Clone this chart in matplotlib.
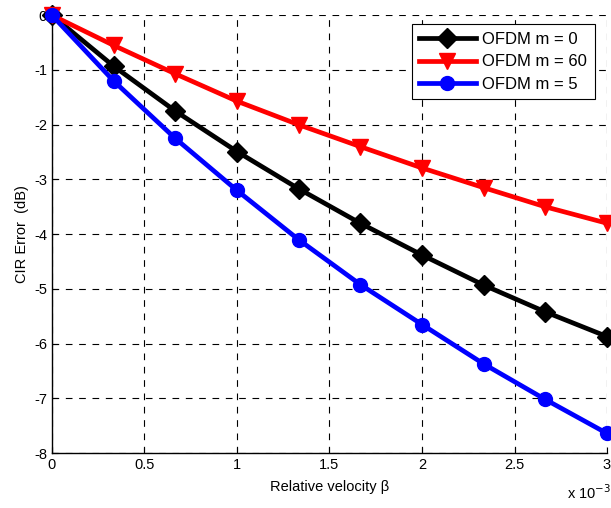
import matplotlib
matplotlib.use("Agg")
import matplotlib.pyplot as plt
import numpy as np

plt.rcParams['font.family'] = ['Liberation Sans', 'DejaVu Sans']
plt.rcParams['axes.unicode_minus'] = False

beta = [0, 1/3, 2/3, 1, 4/3, 5/3, 2, 7/3, 8/3, 3]  # x 10^-3
m0 = [0, -0.93, -1.75, -2.49, -3.17, -3.80, -4.38, -4.93, -5.42, -5.87]
m60 = [0, -0.55, -1.07, -1.57, -2.00, -2.40, -2.79, -3.15, -3.50, -3.80]
m5 = [0, -1.20, -2.25, -3.20, -4.10, -4.92, -5.65, -6.37, -7.02, -7.64]

xticks = [0, 0.5, 1, 1.5, 2, 2.5, 3]
xticklabels = ['0', '0.5', '1', '1.5', '2', '2.5', '3']
yticks = [0, -1, -2, -3, -4, -5, -6, -7, -8]

fig = plt.figure(figsize=(6.11, 5.08), dpi=100)
ax = fig.add_axes([0.085, 0.108, 0.9085, 0.862])

ax.plot(beta, m0, color='black', lw=3.4, marker='D', ms=10, label='OFDM m = 0', clip_on=False, zorder=3)
ax.plot(beta, m60, color='red', lw=3.4, marker='v', ms=12, label='OFDM m = 60', clip_on=False, zorder=3)
ax.plot(beta, m5, color='blue', lw=3.4, marker='o', ms=10, label='OFDM m = 5', clip_on=False, zorder=3)

ax.set_xlim(0, 3)
ax.set_ylim(-8, 0)
ax.set_xticks(xticks)
ax.set_xticklabels(xticklabels)
ax.set_yticks(yticks)
ax.set_yticklabels([str(v) for v in yticks])
ax.grid(True, color='black', linestyle=(0, (6, 6)), linewidth=0.8)
ax.tick_params(direction='in', length=4, labelsize=10.5, width=0.8)
for s in ['top', 'right']:
    ax.spines[s].set_visible(False)
for s in ['left', 'bottom']:
    ax.spines[s].set_linewidth(1.0)

ax.set_xlabel('Relative velocity β', fontsize=10.5, labelpad=6)
ax.set_ylabel('CIR Error  (dB)', fontsize=10.5, labelpad=4)
fig.text(0.928, 0.012, 'x 10$^{-3}$', fontsize=10.5, ha='left', va='bottom')

leg = ax.legend(loc='upper right', bbox_to_anchor=(0.978, 0.979), fontsize=12,
                frameon=True, fancybox=False, edgecolor='black', framealpha=1,
                handlelength=3.4, borderpad=0.45, labelspacing=0.45, handletextpad=0.4,
                borderaxespad=0)
leg.get_frame().set_linewidth(0.8)

fig.savefig('out.png', dpi=100)
